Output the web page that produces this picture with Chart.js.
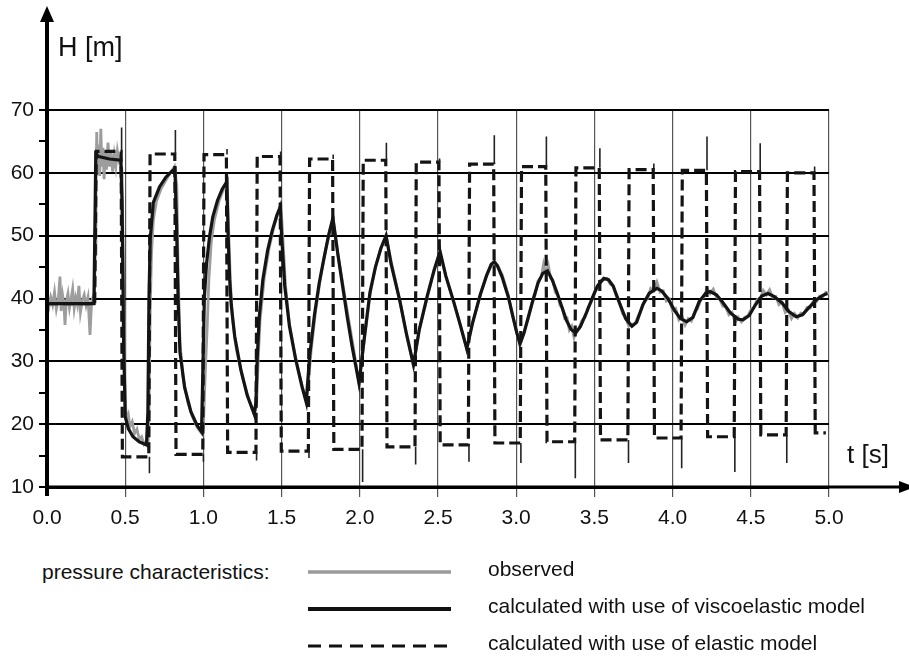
<!DOCTYPE html>
<html>
<head>
<meta charset="utf-8">
<script src="https://cdn.jsdelivr.net/npm/chart.js@4.4.1/dist/chart.umd.min.js"></script>
<style>
  html, body { margin: 0; padding: 0; background: #fff; }
  body { width: 909px; height: 656px; position: relative; overflow: hidden;
         font-family: "Liberation Sans", Arial, sans-serif; color: #111; }
  #wrap { position: absolute; left: 0; top: 0; width: 909px; height: 545px; }
  .txt { position: absolute; white-space: nowrap; line-height: 1; }
  .lg { font-size: 21px; }
</style>
</head>
<body>
<div id="wrap"><canvas id="presChart"></canvas></div>

<div class="txt" style="left:58px; top:34px; font-size:27px;">H [m]</div>
<div class="txt" style="left:847px; top:441px; font-size:26px;">t [s]</div>

<div class="txt lg" style="left:42px; top:561px;">pressure characteristics:</div>
<svg style="position:absolute; left:0; top:0;" width="909" height="656">
  <line x1="308" y1="572" x2="451" y2="572" stroke="#9a9a9a" stroke-width="3.5"/>
  <line x1="308" y1="609" x2="451" y2="609" stroke="#111" stroke-width="4"/>
  <line x1="308" y1="646" x2="451" y2="646" stroke="#111" stroke-width="3" stroke-dasharray="13 8"/>
</svg>
<div class="txt lg" style="left:488px; top:558px;">observed</div>
<div class="txt lg" style="left:488px; top:595px;">calculated with use of viscoelastic model</div>
<div class="txt lg" style="left:488px; top:632px;">calculated with use of elastic model</div>

<script>
/* ============================================================
   DATOS
============================================================ */
const xTickLabels = ['0.0', '0.5', '1.0', '1.5', '2.0', '2.5', '3.0', '3.5', '4.0', '4.5', '5.0'];
const yTickLabels = ['10', '', '20', '', '30', '', '40', '', '50', '', '60', '', '70'];

// observed
const obsT = [0.000, 0.012, 0.024, 0.036, 0.048, 0.060, 0.072, 0.083, 0.090, 0.100, 0.108, 0.115, 0.124, 0.134, 0.144,
  0.154, 0.164, 0.174, 0.184, 0.194, 0.204, 0.214, 0.226, 0.238, 0.250, 0.262, 0.275, 0.285, 0.295, 0.303,
  0.308, 0.313, 0.318, 0.324, 0.330, 0.337, 0.344, 0.351, 0.358, 0.365, 0.372, 0.380, 0.390, 0.400, 0.410,
  0.420, 0.430, 0.440, 0.450, 0.460, 0.470, 0.480, 0.488, 0.496, 0.503, 0.510, 0.520, 0.530, 0.545, 0.560,
  0.575, 0.590, 0.605, 0.620, 0.635, 0.645, 0.652, 0.660, 0.668, 0.680, 0.700, 0.730, 0.760, 0.790, 0.815,
  0.830, 0.838, 0.850, 0.870, 0.900, 0.930, 0.960, 0.990, 1.000, 1.010, 1.025, 1.035, 1.050, 1.070, 1.100,
  1.130, 1.152, 1.160, 1.172, 1.185, 1.210, 1.250, 1.290, 1.325, 1.340, 1.350, 1.362, 1.390, 1.420, 1.450,
  1.480, 1.495, 1.505, 1.525, 1.550, 1.590, 1.630, 1.660, 1.690, 1.720, 1.750, 1.780, 1.810, 1.830, 1.860,
  1.890, 1.930, 1.960, 1.995, 2.030, 2.065, 2.100, 2.135, 2.168, 2.200, 2.257, 2.300, 2.343, 2.380, 2.430,
  2.475, 2.513, 2.550, 2.600, 2.640, 2.684, 2.720, 2.770, 2.810, 2.840, 2.860, 2.880, 2.910, 2.950, 2.980,
  3.005, 3.024, 3.040, 3.060, 3.080, 3.100, 3.120, 3.140, 3.160, 3.175, 3.190, 3.205, 3.220, 3.235, 3.250,
  3.265, 3.280, 3.295, 3.310, 3.325, 3.340, 3.355, 3.370, 3.385, 3.400, 3.420, 3.440, 3.460, 3.480, 3.500,
  3.520, 3.540, 3.560, 3.580, 3.600, 3.620, 3.640, 3.660, 3.680, 3.700, 3.720, 3.740, 3.760, 3.780, 3.800,
  3.820, 3.840, 3.860, 3.880, 3.900, 3.920, 3.940, 3.960, 3.980, 4.000, 4.020, 4.040, 4.060, 4.080, 4.100,
  4.120, 4.140, 4.160, 4.180, 4.200, 4.220, 4.240, 4.260, 4.280, 4.300, 4.320, 4.340, 4.360, 4.380, 4.400,
  4.420, 4.440, 4.460, 4.480, 4.500, 4.520, 4.540, 4.560, 4.580, 4.600, 4.620, 4.640, 4.660, 4.680, 4.700,
  4.720, 4.740, 4.760, 4.780, 4.800, 4.820, 4.840, 4.860, 4.880, 4.900, 4.920, 4.940, 4.960, 4.980, 5.000];
const obsH = [39.5, 38.6, 40.2, 39.0, 41.0, 38.3, 39.8, 43.5, 38.0, 40.5, 39.2, 35.8, 39.6, 40.8, 38.5,
  39.9, 41.5, 38.4, 40.1, 39.0, 42.0, 37.8, 39.7, 40.6, 38.9, 40.2, 34.2, 39.5, 40.3, 39.0,
  47.0, 58.0, 66.5, 60.0, 64.5, 59.5, 67.0, 61.0, 64.0, 59.0, 63.5, 60.5, 64.8, 61.0, 63.2,
  60.2, 62.8, 61.0, 63.5, 62.0, 62.6, 60.0, 45.0, 28.0, 22.5, 20.8, 21.5, 19.6, 20.4, 18.5,
  19.2, 17.6, 18.0, 16.8, 17.3, 16.5, 22.0, 38.0, 47.0, 52.5, 55.5, 57.5, 58.8, 60.0, 61.0,
  58.0, 45.0, 33.0, 27.5, 23.5, 21.2, 19.5, 18.5, 19.5, 27.0, 36.0, 43.0, 49.0, 52.5, 55.5,
  57.5, 58.5, 52.0, 43.0, 37.0, 32.0, 27.5, 24.0, 21.5, 23.0, 30.0, 36.5, 43.5, 48.0, 51.3,
  53.8, 55.0, 51.0, 42.0, 36.0, 30.5, 26.2, 23.5, 32.0, 38.5, 43.5, 47.5, 51.0, 52.5, 47.0,
  42.5, 36.5, 32.0, 26.5, 33.5, 40.5, 45.0, 48.0, 50.0, 46.0, 39.5, 34.0, 29.3, 35.0, 40.0,
  44.5, 47.3, 43.5, 39.5, 36.0, 32.0, 36.0, 40.5, 43.7, 45.5, 46.0, 45.3, 43.8, 40.5, 37.0,
  34.5, 32.5, 33.8, 35.5, 37.0, 39.2, 40.5, 42.8, 43.4, 45.5, 44.0, 45.3, 43.2, 42.8, 41.0,
  40.6, 38.9, 38.5, 36.8, 36.9, 35.0, 35.6, 33.8, 35.0, 35.2, 36.5, 37.0, 38.6, 39.4, 40.9,
  41.8, 42.9, 43.0, 43.2, 42.3, 42.0, 40.4, 39.5, 37.6, 37.0, 35.6, 35.9, 36.0, 37.2, 38.2,
  39.6, 40.0, 41.6, 41.2, 42.6, 41.0, 41.2, 39.6, 39.9, 38.0, 38.4, 36.6, 37.2, 35.8, 36.8,
  36.4, 37.8, 38.4, 39.8, 40.2, 41.6, 40.8, 41.5, 40.2, 40.0, 38.8, 38.6, 37.4, 37.8, 36.2,
  37.0, 36.3, 37.0, 37.2, 38.2, 38.6, 39.8, 40.0, 41.3, 40.6, 41.4, 40.2, 40.3, 39.0, 39.4,
  37.8, 38.2, 36.8, 37.6, 36.9, 37.7, 37.6, 38.6, 38.5, 39.6, 39.5, 40.4, 40.3, 41.0, 40.8];

// calculated with use of viscoelastic model
const visT = [0.000, 0.300, 0.312, 0.330, 0.400, 0.472, 0.480, 0.490, 0.500, 0.520, 0.550, 0.590, 0.636, 0.645, 0.652,
  0.660, 0.680, 0.720, 0.760, 0.800, 0.818, 0.828, 0.838, 0.850, 0.880, 0.920, 0.960, 0.988, 0.997, 1.006,
  1.020, 1.040, 1.060, 1.090, 1.120, 1.150, 1.158, 1.168, 1.178, 1.200, 1.240, 1.280, 1.325, 1.336, 1.345,
  1.357, 1.380, 1.410, 1.440, 1.470, 1.492, 1.500, 1.520, 1.550, 1.590, 1.630, 1.657, 1.680, 1.710, 1.740,
  1.770, 1.800, 1.828, 1.860, 1.890, 1.920, 1.950, 1.995, 2.030, 2.065, 2.100, 2.135, 2.168, 2.200, 2.257,
  2.300, 2.343, 2.380, 2.430, 2.475, 2.513, 2.550, 2.600, 2.640, 2.684, 2.720, 2.770, 2.810, 2.840, 2.860,
  2.880, 2.910, 2.950, 2.980, 3.003, 3.024, 3.050, 3.080, 3.110, 3.140, 3.170, 3.200, 3.230, 3.260, 3.290,
  3.320, 3.350, 3.380, 3.410, 3.450, 3.490, 3.520, 3.560, 3.590, 3.620, 3.660, 3.700, 3.740, 3.770, 3.810,
  3.850, 3.900, 3.930, 3.970, 4.010, 4.050, 4.090, 4.130, 4.170, 4.210, 4.240, 4.280, 4.320, 4.370, 4.420,
  4.450, 4.490, 4.530, 4.570, 4.610, 4.650, 4.700, 4.740, 4.790, 4.830, 4.870, 4.920, 4.960, 4.990];
const visH = [39.2, 39.2, 63.0, 62.6, 62.2, 62.0, 55.0, 33.0, 21.2, 19.3, 18.0, 17.2, 16.7, 22.0, 40.0,
  49.5, 55.3, 57.8, 59.3, 60.3, 60.6, 52.0, 40.0, 31.5, 25.8, 22.0, 19.8, 18.8, 29.0, 40.0,
  45.5, 50.0, 53.0, 55.6, 57.4, 58.6, 50.0, 43.0, 39.0, 34.0, 28.6, 24.6, 21.6, 23.5, 31.0,
  37.0, 43.0, 47.6, 50.8, 53.3, 54.6, 50.0, 42.0, 35.6, 30.3, 26.0, 23.5, 31.0, 37.4, 42.4,
  46.3, 50.0, 52.8, 47.0, 42.0, 37.0, 32.5, 26.5, 34.0, 41.0, 45.0, 48.0, 50.0, 45.5, 39.5,
  34.2, 29.5, 35.0, 40.3, 44.5, 47.5, 43.6, 39.5, 36.0, 32.0, 36.0, 40.6, 43.6, 45.4, 45.8,
  45.2, 43.4, 40.2, 37.0, 34.6, 32.8, 34.5, 37.3, 40.0, 42.5, 44.0, 44.4, 43.0, 41.0, 38.8,
  36.6, 35.1, 34.5, 35.5, 37.8, 40.3, 42.0, 43.2, 43.0, 42.0, 39.3, 36.8, 35.6, 36.2, 39.0,
  40.8, 41.6, 41.2, 40.0, 38.2, 36.8, 36.3, 37.0, 39.5, 40.8, 41.1, 40.6, 39.4, 37.7, 36.7,
  36.6, 37.3, 39.0, 40.4, 40.8, 40.3, 39.3, 38.0, 37.1, 37.4, 38.5, 39.8, 40.5, 40.8];

// calculated with use of elastic model
const elasticT = [0.000, 0.305, 0.315, 0.474, 0.482, 0.651, 0.659, 0.817, 0.825, 0.996, 1.004, 1.147, 1.155, 1.336, 1.344,
  1.490, 1.498, 1.671, 1.679, 1.826, 1.834, 2.014, 2.022, 2.166, 2.174, 2.353, 2.361, 2.506, 2.514, 2.694,
  2.702, 2.856, 2.864, 3.026, 3.034, 3.189, 3.197, 3.374, 3.382, 3.531, 3.539, 3.714, 3.722, 3.876, 3.884,
  4.054, 4.062, 4.216, 4.224, 4.394, 4.402, 4.556, 4.564, 4.726, 4.734, 4.904, 4.912, 4.980];
const elasticH = [39.2, 39.2, 63.4, 63.4, 14.8, 14.8, 63.0, 63.0, 15.2, 15.2, 62.9, 62.9, 15.5, 15.5, 62.6,
  62.6, 15.7, 15.7, 62.2, 62.2, 16.0, 16.0, 62.0, 62.0, 16.4, 16.4, 61.7, 61.7, 16.7, 16.7,
  61.4, 61.4, 17.0, 17.0, 61.0, 61.0, 17.2, 17.2, 60.8, 60.8, 17.5, 17.5, 60.5, 60.5, 17.8,
  17.8, 60.4, 60.4, 18.0, 18.0, 60.2, 60.2, 18.3, 18.3, 60.0, 60.0, 18.6, 18.6];

// oscillation needles of the elastic model at each wave front
const needleT    = [0.477, 0.655, 0.821, 1.000, 1.151, 1.340, 1.494, 1.675, 1.830, 2.018, 2.170, 2.357, 2.510, 2.698,
  2.860, 3.030, 3.193, 3.378, 3.535, 3.718, 3.880, 4.058, 4.220, 4.398, 4.560, 4.730, 4.908];
const needleBase = [63.4, 14.8, 63.0, 15.2, 62.9, 15.5, 62.6, 15.7, 62.2, 16.0, 62.0, 16.4, 61.7, 16.7,
  61.4, 17.0, 61.0, 17.2, 60.8, 17.5, 60.5, 17.8, 60.4, 18.0, 60.2, 18.3, 60.0];
const needleTip  = [67.2, 12.2, 66.8, 14.0, 63.8, 14.2, 63.4, 14.6, 62.9, 10.8, 64.8, 13.6, 62.3, 14.0,
  66.0, 13.8, 65.8, 11.4, 63.9, 13.8, 61.5, 13.0, 65.8, 12.4, 64.7, 13.8, 61.0];

/* ============================================================
   GRÁFICO
============================================================ */
const aPuntos = (ts, hs) => ts.map((t, i) => ({ x: t, y: hs[i] }));

function puntosAgujas() {
    const out = [];
    needleT.forEach((t, i) => {
        out.push({ x: t, y: needleBase[i] }, { x: t, y: needleTip[i] }, { x: t, y: null });
    });
    return out;
}

const flechasEjes = {
    id: 'flechasEjes',
    afterDraw(chart) {
        const { ctx, chartArea: { left, bottom } } = chart;
        const w = chart.width;
        ctx.save();
        ctx.strokeStyle = '#000';
        ctx.fillStyle = '#000';
        ctx.lineWidth = 4;
        ctx.beginPath(); ctx.moveTo(left, bottom + 9); ctx.lineTo(left, 18); ctx.stroke();
        ctx.beginPath(); ctx.moveTo(left, 6); ctx.lineTo(left - 7, 22); ctx.lineTo(left + 7, 22); ctx.closePath(); ctx.fill();
        ctx.lineWidth = 3;
        ctx.beginPath(); ctx.moveTo(left, bottom); ctx.lineTo(w - 8, bottom); ctx.stroke();
        ctx.beginPath(); ctx.moveTo(w + 6, bottom); ctx.lineTo(w - 10, bottom - 6); ctx.lineTo(w - 10, bottom + 6); ctx.closePath(); ctx.fill();
        ctx.restore();
    }
};

const fuente = { family: '"Liberation Sans", Arial, sans-serif', size: 21 };
const linea = { pointRadius: 0, fill: false, tension: 0, spanGaps: false };

new Chart(document.getElementById('presChart'), {
    type: 'line',
    data: {
        datasets: [
            { ...linea, label: 'observed', data: aPuntos(obsT, obsH), borderColor: '#9d9d9d', borderWidth: 2.8, order: 3 },
            { ...linea, label: 'calculated with use of viscoelastic model', data: aPuntos(visT, visH), borderColor: '#141414', borderWidth: 3.2, order: 0 },
            { ...linea, label: 'calculated with use of elastic model', data: aPuntos(elasticT, elasticH), borderColor: '#141414', borderWidth: 3.2, borderDash: [11, 5], order: 2 },
            { ...linea, label: 'elastic model oscillations', data: puntosAgujas(), borderColor: '#222', borderWidth: 1.6, order: 1 }
        ]
    },
    options: {
        responsive: true,
        maintainAspectRatio: false,
        animation: false,
        events: [],
        layout: { padding: { top: 110, right: 80, left: 0, bottom: 0 } },
        plugins: { legend: { display: false }, tooltip: { enabled: false } },
        scales: {
            x: {
                type: 'linear', min: 0, max: 5,
                afterFit: s => { s.height = 58; },
                border: { display: true, color: '#000', width: 3 },
                grid: {
                    color: c => c.tick && c.tick.value === 0 ? 'rgba(0,0,0,0)' : '#555',
                    lineWidth: 1.2, tickLength: 10
                },
                ticks: {
                    stepSize: 0.5, autoSkip: false, maxRotation: 0, padding: 9,
                    color: '#111', font: fuente,
                    callback: (v, i) => xTickLabels[i]
                }
            },
            y: {
                type: 'linear', min: 10, max: 70,
                afterFit: s => { s.width = 47; },
                border: { display: true, color: '#000', width: 4 },
                grid: {
                    color: c => c.index % 2 === 0 ? '#000' : 'rgba(0,0,0,0)',
                    tickColor: '#000', lineWidth: 2, tickLength: 8
                },
                ticks: {
                    stepSize: 5, autoSkip: false, padding: 5,
                    color: '#111', font: fuente,
                    callback: (v, i) => yTickLabels[i]
                }
            }
        }
    },
    plugins: [flechasEjes]
});
</script>
</body>
</html>
